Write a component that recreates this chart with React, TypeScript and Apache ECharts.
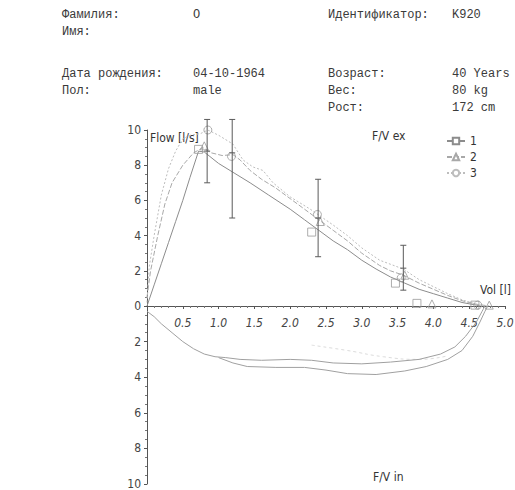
import React, { useEffect, useRef } from "react";
import * as echarts from "echarts";

// ---- Data (volume [l], flow [l/s]) ----
const curve1: number[][] = [
  [0, 0], [0.1, 1.2], [0.2, 2.4], [0.3, 3.6], [0.4, 4.8], [0.5, 6.0], [0.6, 7.3], [0.72, 8.8],
  [0.8, 8.75], [1.0, 8.1], [1.2, 7.6], [1.44, 7.0], [1.7, 6.3], [2.0, 5.5], [2.2, 4.9], [2.4, 4.3],
  [2.6, 3.7], [2.8, 3.2], [3.0, 2.6], [3.2, 2.1], [3.4, 1.65], [3.6, 1.3], [3.8, 0.95], [4.0, 0.7],
  [4.2, 0.45], [4.4, 0.2], [4.6, 0.05], [4.65, 0],
];
const curve2: number[][] = [
  [0, 0.5], [0.05, 2.0], [0.15, 4.0], [0.25, 5.8], [0.35, 7.0], [0.5, 8.0], [0.65, 8.7], [0.78, 9.0],
  [0.9, 8.7], [1.05, 8.55], [1.2, 8.6], [1.3, 8.3], [1.44, 7.7], [1.6, 7.2], [1.8, 6.7], [2.0, 6.1],
  [2.2, 5.5], [2.4, 4.9], [2.6, 4.3], [2.8, 3.7], [3.0, 3.0], [3.25, 2.3], [3.4, 2.0], [3.58, 1.75],
  [3.8, 1.3], [4.0, 0.95], [4.2, 0.6], [4.4, 0.3], [4.6, 0.1], [4.78, 0],
];
const curve3: number[][] = [
  [0, 0.2], [0.03, 2.2], [0.1, 4.0], [0.2, 6.3], [0.3, 7.8], [0.4, 8.8], [0.5, 9.5], [0.6, 9.7],
  [0.75, 9.8], [0.85, 10.0], [1.0, 9.7], [1.2, 9.2], [1.34, 8.3], [1.48, 7.9], [1.62, 7.7], [1.76, 7.0],
  [2.0, 6.2], [2.28, 5.5], [2.6, 4.6], [2.8, 4.0], [3.0, 3.3], [3.25, 2.6], [3.58, 2.1], [3.8, 1.5],
  [4.0, 1.1], [4.2, 0.7], [4.4, 0.35], [4.6, 0.1], [4.7, 0],
];
const inspUpper: number[][] = [
  [0, -0.3], [0.1, -0.6], [0.2, -1.0], [0.35, -1.5], [0.5, -2.0], [0.65, -2.4], [0.8, -2.7],
  [0.95, -2.85], [1.1, -2.9], [1.3, -3.0], [1.6, -3.05], [2.0, -3.0], [2.3, -3.05], [2.6, -3.2],
  [3.0, -3.25], [3.4, -3.15], [3.8, -3.0], [4.1, -2.7], [4.3, -2.3], [4.45, -1.7], [4.6, -0.9],
  [4.68, -0.3], [4.72, 0],
];
const inspLower: number[][] = [
  [1.0, -2.9], [1.2, -3.2], [1.4, -3.4], [1.8, -3.45], [2.2, -3.45], [2.5, -3.6], [2.8, -3.8],
  [3.2, -3.85], [3.6, -3.65], [3.9, -3.4], [4.2, -3.0], [4.4, -2.5], [4.55, -1.7], [4.65, -0.9],
  [4.72, -0.3], [4.76, 0],
];
const inspFaint: number[][] = [
  [2.3, -2.2], [2.8, -2.5], [3.3, -2.85], [3.8, -3.0], [4.2, -2.8],
];
const marks1: number[][] = [[0.72, 8.9], [2.3, 4.2], [3.47, 1.3], [3.77, 0.15], [4.58, 0.05]];
const marks2: number[][] = [[0.8, 9.1], [2.42, 4.8], [3.6, 1.75], [3.98, 0.12], [4.78, 0.05]];
const marks3: number[][] = [[0.85, 10.0], [1.18, 8.5], [2.38, 5.2], [3.55, 1.6], [4.62, 0.05]];
// [volume, low, mean, high]
const errorBars: number[][] = [
  [0.84, 7.0, 8.8, 10.6],
  [1.19, 5.0, 8.7, 10.6],
  [2.39, 2.8, 5.0, 7.2],
  [3.58, 0.9, 2.15, 3.45],
];
const seriesNames = ["1", "2", "3"];
const headerRows: { text: string; x: number; y: number }[] = [
  { text: "Фамилия:", x: 62, y: 15 },
  { text: "O", x: 193, y: 15 },
  { text: "Идентификатор:", x: 328, y: 15 },
  { text: "K920", x: 452, y: 15 },
  { text: "Имя:", x: 62, y: 32 },
  { text: "Дата рождения:", x: 62, y: 74 },
  { text: "04-10-1964", x: 193, y: 74 },
  { text: "Возраст:", x: 328, y: 74 },
  { text: "40 Years", x: 452, y: 74 },
  { text: "Пол:", x: 62, y: 91 },
  { text: "male", x: 193, y: 91 },
  { text: "Вес:", x: 328, y: 91 },
  { text: "80 kg", x: 452, y: 91 },
  { text: "Рост:", x: 328, y: 108 },
  { text: "172 cm", x: 452, y: 108 },
];

const NARROW = "'Liberation Sans Narrow', 'DejaVu Sans Condensed', 'Roboto Condensed', sans-serif";
const MONO = "'Liberation Mono', 'DejaVu Sans Mono', monospace";

export default function App() {
  const ref = useRef<HTMLDivElement>(null);
  useEffect(() => {
    if (!ref.current) return;
    const chart = echarts.init(ref.current, undefined, { renderer: "svg" });
    const lineStyles = [
      { color: "#8c8c8c", width: 1, type: "solid" as const },
      { color: "#a8a8a8", width: 1, type: [5, 2] as any },
      { color: "#bdbdbd", width: 1, type: [2, 2] as any },
    ];
    const symbols = ["rect", "triangle", "circle"];
    const curves = [curve1, curve2, curve3];
    const marks = [marks1, marks2, marks3];
    const series: any[] = [];
    curves.forEach((c, i) => {
      series.push({
        name: seriesNames[i],
        type: "line",
        xAxisIndex: 0,
        yAxisIndex: 0,
        data: c,
        showSymbol: false,
        symbol: symbols[i],
        symbolSize: 7,
        itemStyle: { color: "#fff", borderColor: lineStyles[i].color, borderWidth: 1 },
        lineStyle: lineStyles[i],
        silent: true,
        z: 3,
      });
    });
    marks.forEach((m, i) => {
      series.push({
        type: "scatter",
        xAxisIndex: 0,
        yAxisIndex: 0,
        data: m,
        symbol: symbols[i],
        symbolSize: 8,
        itemStyle: { color: "rgba(255,255,255,0)", borderColor: "#9a9a9a", borderWidth: 1 },
        z: 4,
      });
    });
    [inspUpper, inspLower].forEach((c) => {
      series.push({
        type: "line",
        xAxisIndex: 1,
        yAxisIndex: 1,
        data: c,
        showSymbol: false,
        lineStyle: { color: "#a0a0a0", width: 1 },
        z: 3,
      });
    });
    series.push({
      type: "line",
      xAxisIndex: 1,
      yAxisIndex: 1,
      data: inspFaint,
      showSymbol: false,
      smooth: true,
      lineStyle: { color: "#dcdcdc", width: 1, type: [3, 3] },
      z: 2,
    });
    series.push({
      type: "custom",
      xAxisIndex: 0,
      yAxisIndex: 0,
      data: errorBars,
      encode: { x: 0, y: [1, 3] },
      z: 5,
      clip: false,
      renderItem: (params: any, api: any) => {
        const x = api.value(0);
        const lo = api.coord([x, api.value(1)]);
        const mid = api.coord([x, api.value(2)]);
        const hi = api.coord([x, api.value(3)]);
        const w = 3;
        const st = { stroke: "#5a5a5a", lineWidth: 1 };
        return {
          type: "group",
          children: [
            { type: "line", shape: { x1: lo[0], y1: lo[1], x2: hi[0], y2: hi[1] }, style: st },
            { type: "line", shape: { x1: lo[0] - w, y1: lo[1], x2: lo[0] + w, y2: lo[1] }, style: st },
            { type: "line", shape: { x1: hi[0] - w, y1: hi[1], x2: hi[0] + w, y2: hi[1] }, style: st },
            { type: "line", shape: { x1: mid[0] - w, y1: mid[1], x2: mid[0] + w, y2: mid[1] }, style: st },
          ],
        };
      },
    });

    const graphic: any[] = headerRows.map((r) => ({
      type: "text",
      x: r.x,
      y: r.y,
      style: { text: r.text, fill: "#3a3a3a", font: `12px ${MONO}`, textVerticalAlign: "middle" },
    }));
    const labels = [
      { text: "Flow [l/s]", x: 150, y: 138 },
      { text: "F/V ex", x: 372, y: 136 },
      { text: "Vol [l]", x: 480, y: 290 },
      { text: "F/V in", x: 373, y: 477 },
    ];
    labels.forEach((l) =>
      graphic.push({
        type: "text",
        x: l.x,
        y: l.y,
        style: { text: l.text, fill: "#333", font: `12px ${NARROW}`, textVerticalAlign: "middle" },
      })
    );

    const yLabel = {
      margin: 6,
      color: "#444",
      fontFamily: NARROW,
      fontSize: 12,
    };
    const yLine = { show: true, onZero: false, lineStyle: { color: "#555", width: 1 } };
    const yTick = { show: true, length: 3, lineStyle: { color: "#555" } };
    const yMinor = { show: true, splitNumber: 4, length: 2, lineStyle: { color: "#777" } };

    chart.setOption({
      animation: false,
      backgroundColor: "#fff",
      grid: [
        { left: 147, width: 358, top: 130, height: 176, containLabel: false, outerBoundsMode: "none" },
        { left: 147, width: 358, top: 306, height: 178, containLabel: false, outerBoundsMode: "none" },
      ],
      legend: {
        data: seriesNames,
        orient: "vertical",
        left: 441,
        top: 130,
        itemWidth: 18,
        itemHeight: 8,
        itemGap: 4,
        textStyle: { color: "#333", fontFamily: NARROW, fontSize: 12 },
        selectedMode: false,
      },
      xAxis: [
        {
          type: "value",
          gridIndex: 0,
          position: "bottom",
          min: 0,
          max: 5,
          interval: 0.5,
          axisLine: { onZero: false, lineStyle: { color: "#555", width: 1 } },
          axisTick: { show: true, length: 3, lineStyle: { color: "#555" } },
          minorTick: { show: true, splitNumber: 5, length: 2, lineStyle: { color: "#777" } },
          splitLine: { show: false },
          axisLabel: {
            margin: 11,
            color: "#444",
            fontFamily: NARROW,
            fontStyle: "italic",
            fontSize: 12,
            showMaxLabel: true,
            formatter: (v: number) => (v === 0 ? "" : v.toFixed(1)),
          },
        },
        {
          type: "value",
          gridIndex: 1,
          min: 0,
          max: 5,
          interval: 0.5,
          show: false,
        },
      ],
      yAxis: [
        {
          type: "value",
          gridIndex: 0,
          min: 0,
          max: 10,
          interval: 2,
          axisLine: yLine,
          axisTick: yTick,
          minorTick: yMinor,
          splitLine: { show: false },
          axisLabel: { ...yLabel, formatter: (v: number) => String(Math.abs(v)) },
        },
        {
          type: "value",
          gridIndex: 1,
          min: -10,
          max: 0,
          interval: 2,
          axisLine: yLine,
          axisTick: yTick,
          minorTick: yMinor,
          splitLine: { show: false },
          axisLabel: { ...yLabel, formatter: (v: number) => (v === 0 ? "" : String(Math.abs(v))) },
        },
      ],
      graphic,
      series,
    });
    return () => chart.dispose();
  }, []);
  return (
    <div
      ref={ref}
      style={{ position: "absolute", left: 0, top: 0, width: 515, height: 490, background: "#fff" }}
    />
  );
}
